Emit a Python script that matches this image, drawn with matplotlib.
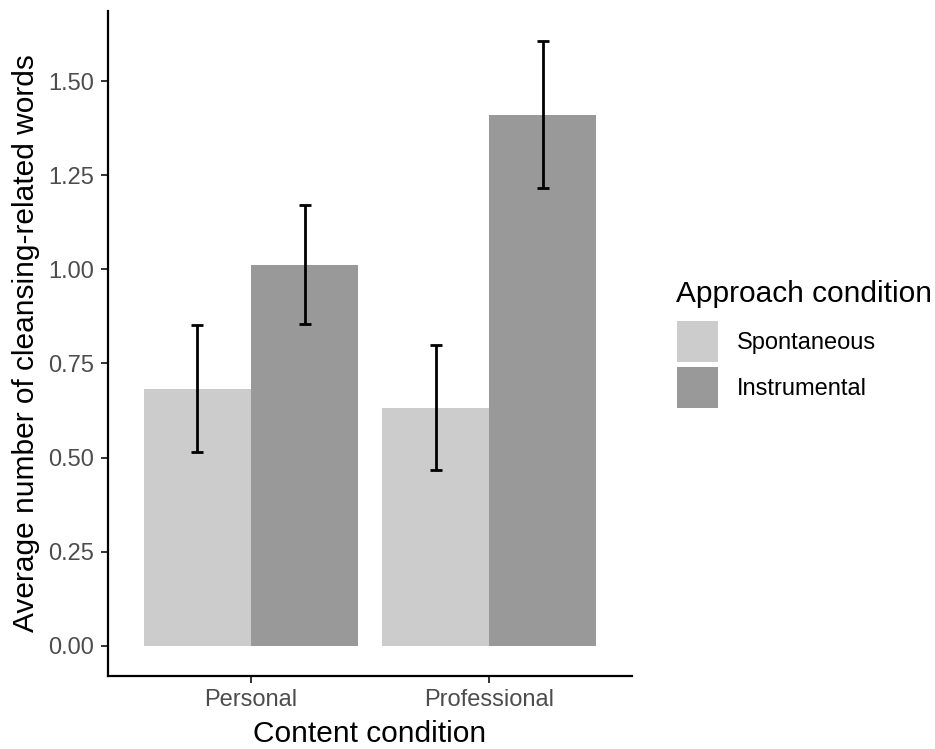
import matplotlib
matplotlib.use("Agg")
import matplotlib.pyplot as plt
import numpy as np

plt.rcParams['font.family'] = ['Liberation Sans', 'DejaVu Sans']

categories = ["Personal", "Professional"]
groups = ["Spontaneous", "Instrumental"]
means = {
    "Spontaneous": [0.682, 0.632],
    "Instrumental": [1.011, 1.410],
}
lower = {
    "Spontaneous": [0.515, 0.467],
    "Instrumental": [0.855, 1.216],
}
upper = {
    "Spontaneous": [0.852, 0.799],
    "Instrumental": [1.171, 1.606],
}
colors = {"Spontaneous": "#CCCCCC", "Instrumental": "#999999"}
yticks = [0.00, 0.25, 0.50, 0.75, 1.00, 1.25, 1.50]

W, H = 935, 749
fig = plt.figure(figsize=(W / 100, H / 100), dpi=100)
ax = fig.add_axes([108 / W, (H - 676) / H, (632 - 108) / W, (676 - 11) / H])

x = np.arange(1, len(categories) + 1)
bw = 0.45
handles = []
for i, g in enumerate(groups):
    xs = x + (i - 0.5) * bw
    m = np.array(means[g])
    b = ax.bar(xs, m, width=bw, color=colors[g], label=g, zorder=1)
    handles.append(b.patches[0])
    err = np.vstack([m - np.array(lower[g]), np.array(upper[g]) - m])
    ax.errorbar(xs, m, yerr=err, fmt='none', ecolor='black', elinewidth=2.0,
                capsize=4.3, capthick=2.0, zorder=3)

ax.set_xlim(0.4, 2.6)
ax.set_ylim(-0.08, 1.686)
ax.set_xticks(x)
ax.set_xticklabels(categories)
ax.set_yticks(yticks)
ax.set_yticklabels([f"{v:.2f}" for v in yticks])
for s in ['top', 'right']:
    ax.spines[s].set_visible(False)
for s in ['left', 'bottom']:
    ax.spines[s].set_linewidth(1.6)
    ax.spines[s].set_color('black')
ax.tick_params(axis='both', length=5, width=1.4, color='#333333',
               labelsize=17, labelcolor='#4D4D4D')
ax.tick_params(axis='x', pad=4.5)
ax.tick_params(axis='y', pad=5)
ax.set_xlabel("Content condition", fontsize=21.5, color='black', labelpad=6)
ax.set_ylabel("Average number of cleansing-related words", fontsize=21.5, color='black', labelpad=6)

fig.text(676 / W, 1 - 302 / H, "Approach condition", fontsize=21.5,
         color='black', ha='left', va='baseline')
leg = fig.legend(handles=handles, labels=groups,
                 loc='upper left', bbox_to_anchor=(677 / W, 1 - 321 / H),
                 frameon=False, fontsize=17,
                 handlelength=1.74, handleheight=2.3, labelspacing=0.21,
                 handletextpad=0.8, borderpad=0, borderaxespad=0)

fig.savefig("out.png", dpi=100)
